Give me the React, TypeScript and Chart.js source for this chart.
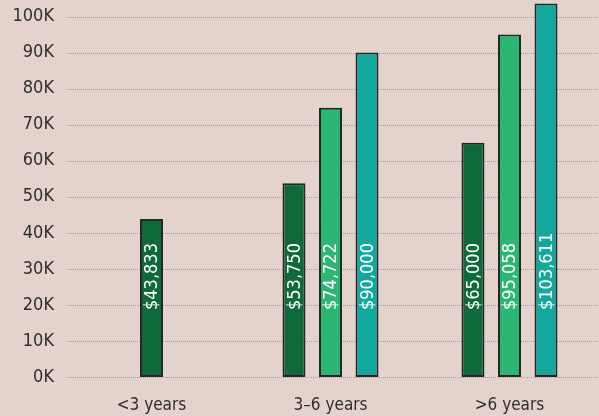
import React, { useEffect, useRef } from "react";
import { Chart, registerables } from "chart.js";

Chart.register(...registerables);

const categories = ["<3 years", "3–6 years", ">6 years"];
const seriesDark: (number | null)[] = [43833, 53750, 65000];
const seriesLight: (number | null)[] = [null, 74722, 95058];
const seriesTeal: (number | null)[] = [null, 90000, 103611];
const seriesColors = ["#0e6a3a", "#2bb673", "#13a89d"];
const yTickValues = [0, 10000, 20000, 30000, 40000, 50000, 60000, 70000, 80000, 90000, 100000];

const FONT = "'DejaVu Sans Condensed', 'Liberation Sans Narrow', 'DejaVu Sans', sans-serif";

const valueLabelPlugin = {
  id: "valueLabels",
  afterDatasetsDraw(chart: any) {
    const ctx = chart.ctx;
    const yScale = chart.scales.y;
    const base = yScale.getPixelForValue(0);
    ctx.save();
    ctx.fillStyle = "#ffffff";
    ctx.font = `18px ${FONT}`;
    ctx.textAlign = "left";
    ctx.textBaseline = "middle";
    chart.data.datasets.forEach((ds: any, di: number) => {
      const meta = chart.getDatasetMeta(di);
      meta.data.forEach((bar: any, i: number) => {
        const v = ds.data[i];
        if (v === null || v === undefined) return;
        ctx.save();
        ctx.translate(bar.x, base - 67);
        ctx.rotate(-Math.PI / 2);
        ctx.fillText("$" + v.toLocaleString("en-US"), 0, 1);
        ctx.restore();
      });
    });
    ctx.restore();
  },
};

const gridPlugin = {
  id: "dottedGrid",
  beforeDatasetsDraw(chart: any) {
    const ctx = chart.ctx;
    const yScale = chart.scales.y;
    const area = chart.chartArea;
    ctx.save();
    ctx.strokeStyle = "#9b9eab";
    ctx.lineWidth = 1;
    ctx.setLineDash([1, 1]);
    yScale.ticks.forEach((t: any) => {
      const y = Math.round(yScale.getPixelForValue(t.value)) + 0.5;
      ctx.beginPath();
      ctx.moveTo(area.left + 5, y);
      ctx.lineTo(area.right, y);
      ctx.stroke();
    });
    ctx.restore();
  },
};

export default function App() {
  const ref = useRef<HTMLCanvasElement>(null);
  useEffect(() => {
    document.body.style.margin = "0";
    document.body.style.overflow = "hidden";
    document.body.style.background = "#e4d2cc";
    const mk = (label: string, data: (number | null)[], color: string) => ({
      label,
      data,
      backgroundColor: color,
      borderColor: "#262626",
      borderWidth: 2,
      borderSkipped: false as const,
      maxBarThickness: 23,
      categoryPercentage: 0.612,
      barPercentage: 0.95,
    });
    const chart = new Chart(ref.current!, {
      type: "bar",
      data: {
        labels: categories,
        datasets: [
          mk("dark", seriesDark, seriesColors[0]),
          mk("light", seriesLight, seriesColors[1]),
          mk("teal", seriesTeal, seriesColors[2]),
        ],
      },
      options: {
        animation: false,
        responsive: false,
        skipNull: true,
        layout: { padding: 0 },
        plugins: { legend: { display: false }, tooltip: { enabled: false } },
        scales: {
          x: {
            grid: { display: false, drawTicks: false },
            border: { display: false },
            ticks: { color: "#2e2e2e", font: { family: FONT, size: 17 }, padding: 18 },
            afterFit: (s: any) => {
              s.height = 39;
              s.paddingLeft = 0;
              s.paddingRight = 0;
            },
          },
          y: {
            min: 0,
            max: 104600,
            grid: { display: false, drawTicks: false },
            border: { display: false },
            ticks: {
              autoSkip: false,
              color: "#2e2e2e",
              font: { family: FONT, size: 18 },
              padding: 8,
              callback: (v: any) => v / 1000 + "K",
            },
            afterBuildTicks: (s: any) => {
              s.ticks = yTickValues.map((v) => ({ value: v }));
            },
            afterFit: (s: any) => {
              s.width = 62;
              s.paddingTop = 0;
              s.paddingBottom = 0;
            },
          },
        },
      } as any,
      plugins: [gridPlugin, valueLabelPlugin],
    });
    return () => chart.destroy();
  }, []);
  return (
    <div style={{ width: 599, height: 416, background: "#e4d2cc" }}>
      <canvas ref={ref} width={599} height={416} style={{ display: "block" }} />
    </div>
  );
}
